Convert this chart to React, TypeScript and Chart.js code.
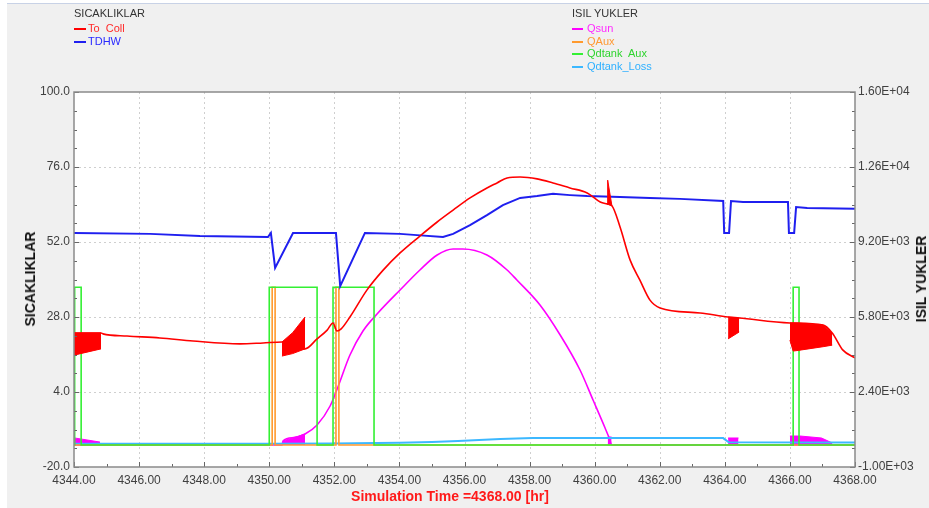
import React, { useEffect, useRef } from "react";
import { Chart, registerables } from "chart.js";

Chart.register(...registerables);

const FONT = '"Liberation Sans", Arial, Helvetica, sans-serif';

// ---- axes ----
const X_MIN = 4344, X_MAX = 4368, X_STEP = 2, X_MINOR = 1;
const T_MIN = -20, T_MAX = 100, T_STEP = 24, T_MINOR = 6;
const Q_MIN = -1000, Q_MAX = 16000, Q_STEP = 3400, Q_MINOR = 850;

type P = [number, number];

// ---- SICAKLIKLAR (deg C) ----
const toColl: P[] = [
  [4344.0, 22.9], [4344.83, 22.9], [4344.89, 22.6], [4345.63, 21.9], [4346.64, 21.3],
  [4347.66, 20.3], [4349.1, 19.4], [4349.81, 19.7], [4350.39, 20.0], [4351.1, 17.8],
  [4351.47, 21.0], [4351.78, 23.8], [4351.96, 26.1], [4352.08, 23.5], [4352.21, 24.2],
  [4352.48, 28.0], [4353.0, 36.6], [4353.5, 43.0], [4354.02, 48.5], [4354.63, 53.9],
  [4355.16, 58.4], [4355.65, 62.2], [4356.17, 66.1], [4356.69, 69.3], [4357.0, 70.9],
  [4357.31, 72.5], [4357.71, 72.8], [4358.23, 72.2], [4358.72, 70.9], [4359.24, 69.3],
  [4359.77, 67.7], [4360.17, 64.8], [4360.38, 64.2], [4360.53, 63.6], [4360.78, 56.8],
  [4361.09, 46.2], [4361.39, 39.8], [4361.7, 33.4], [4362.01, 30.9], [4363.24, 29.3],
  [4364.1, 28.0], [4364.44, 27.7], [4366.0, 26.1], [4367.02, 25.4], [4367.3, 22.9],
  [4367.63, 17.4], [4368.0, 14.9],
];
// rapid oscillation envelopes of To Coll (upper / lower)
const toCollBand1Upper: P[] = [[4344.0, 22.9], [4344.83, 22.9]];
const toCollBand1Lower: P[] = [[4344.0, 15.8], [4344.83, 17.8]];
const toCollBand2Upper: P[] = [[4350.39, 20.0], [4350.72, 23.0], [4351.1, 28.0]];
const toCollBand2Lower: P[] = [[4350.39, 15.5], [4350.72, 16.3], [4351.1, 17.8]];
const toCollBand3Upper: P[] = [[4360.38, 64.2], [4360.4, 71.8], [4360.53, 63.6]];
const toCollBand3Lower: P[] = [[4360.38, 64.2], [4360.4, 64.1], [4360.53, 63.6]];
const toCollBand4Upper: P[] = [[4364.1, 28.0], [4364.44, 27.7]];
const toCollBand4Lower: P[] = [[4364.1, 21.0], [4364.44, 23.2]];
const toCollBand5Upper: P[] = [[4366.0, 26.1], [4366.1, 26.1], [4366.31, 26.0], [4367.02, 25.4], [4367.3, 22.9]];
const toCollBand5Lower: P[] = [[4366.0, 20.6], [4366.1, 17.1], [4366.31, 17.4], [4367.02, 18.5], [4367.3, 19.0]];

const tdhw: P[] = [
  [4344.0, 54.9], [4346.34, 54.6], [4347.87, 53.9], [4349.96, 53.6], [4350.05, 54.9],
  [4350.18, 43.7], [4350.73, 54.9], [4352.05, 54.9], [4352.18, 37.9], [4352.94, 54.9],
  [4354.02, 54.6], [4354.54, 54.2], [4355.34, 53.6], [4355.65, 54.6], [4356.17, 57.4],
  [4356.69, 60.6], [4357.18, 63.8], [4357.71, 66.1], [4358.23, 66.7], [4358.72, 67.4],
  [4359.24, 67.0], [4359.77, 66.7], [4360.78, 66.4], [4361.7, 66.1], [4362.62, 65.8],
  [4363.95, 65.1], [4363.98, 54.9], [4364.13, 54.9], [4364.19, 65.1], [4364.56, 64.8],
  [4365.94, 64.8], [4365.97, 54.9], [4366.13, 54.9], [4366.19, 63.2], [4366.53, 62.9],
  [4368.0, 62.6],
];

// ---- ISIL YUKLER (kJ/h) ----
const qsun: P[] = [
  [4344.0, 0], [4350.4, 0], [4350.42, 180], [4350.75, 330], [4351.1, 496], [4351.47, 904],
  [4351.87, 1765], [4352.11, 2627], [4352.48, 4077], [4352.88, 5165], [4353.34, 5981],
  [4354.02, 7024], [4354.63, 7931], [4355.16, 8611], [4355.65, 8883], [4355.95, 8883],
  [4356.69, 8611], [4357.31, 7931], [4357.61, 7477], [4358.32, 6344], [4358.94, 4984],
  [4359.55, 3397], [4359.95, 2037], [4360.32, 768], [4360.47, 224], [4360.52, 0], [4368.0, 0],
];
const qsunBand1: P[] = [[4344.0, 320], [4344.8, 130]];
const qsunBand2: P[] = [[4350.42, 180], [4350.75, 330], [4351.1, 496]];
const qsunBand3: P[] = [[4360.4, 360], [4360.52, 360]];
const qsunBand4: P[] = [[4364.1, 315], [4364.42, 315]];
const qsunBand5: P[] = [[4366.0, 405], [4366.31, 405], [4366.97, 315], [4367.3, 90]];

const qaux: P[] = [
  [4344.0, 0], [4350.09, 0], [4350.09, 7150], [4350.18, 7150], [4350.18, 0],
  [4352.05, 0], [4352.05, 7150], [4352.14, 7150], [4352.14, 0], [4368.0, 0],
];
const qdtankAux: P[] = [
  [4344.0, 0], [4344.02, 0], [4344.02, 7150], [4344.22, 7150], [4344.22, 0],
  [4350.0, 0], [4350.0, 7150], [4351.47, 7150], [4351.47, 0],
  [4351.96, 0], [4351.96, 7150], [4353.22, 7150], [4353.22, 0],
  [4366.1, 0], [4366.1, 7150], [4366.28, 7150], [4366.28, 0], [4368.0, 0],
];
const qdtankLoss: P[] = [
  [4344.0, 50], [4349.9, 50], [4352.0, 70], [4353.3, 90], [4354.0, 95], [4355.0, 130],
  [4355.8, 180], [4357.1, 270], [4358.1, 310], [4363.95, 310], [4364.12, 120], [4368.0, 110],
];

// ---- colours ----
const RED = "#ff0000";
const BLUE = "#1f1fef";
const MAGENTA = "#ff00ff";
const ORANGE = "#ff9a2e";
const GREEN = "#33f033";
const LIGHTBLUE = "#3cb8ff";

const pts = (a: P[]) => a.map(([x, y]) => ({ x, y }));

const sci = (v: number) => {
  const [m, e] = v.toExponential(2).split("e");
  const n = parseInt(e, 10);
  return `${m.toUpperCase()}E${n < 0 ? "-" : "+"}${String(Math.abs(n)).padStart(2, "0")}`;
};

const framePlugin = {
  id: "framePlugin",
  beforeDraw(chart: any) {
    const { ctx, chartArea: a } = chart;
    ctx.save();
    ctx.fillStyle = "#ffffff";
    ctx.fillRect(a.left, a.top, a.right - a.left, a.bottom - a.top);
    ctx.restore();
  },
  beforeDatasetsDraw(chart: any) {
    const { ctx, chartArea: a, scales } = chart;
    ctx.save();
    ctx.strokeStyle = "#cfcfcf";
    ctx.lineWidth = 1;
    ctx.setLineDash([2, 3]);
    ctx.beginPath();
    for (let v = X_MIN + X_STEP; v < X_MAX - 1e-9; v += X_STEP) {
      const px = Math.round(scales.x.getPixelForValue(v)) + 0.5;
      ctx.moveTo(px, a.top);
      ctx.lineTo(px, a.bottom);
    }
    for (let v = T_MIN + T_STEP; v < T_MAX - 1e-9; v += T_STEP) {
      const py = Math.round(scales.y.getPixelForValue(v)) + 0.5;
      ctx.moveTo(a.left, py);
      ctx.lineTo(a.right, py);
    }
    ctx.stroke();
    ctx.restore();
  },
  afterDatasetsDraw(chart: any) {
    const { ctx, chartArea: a, scales } = chart;
    ctx.save();
    ctx.strokeStyle = "#666";
    ctx.lineWidth = 1;
    ctx.beginPath();
    for (let v = T_MIN; v <= T_MAX + 1e-9; v += T_MINOR) {
      const py = Math.round(scales.y.getPixelForValue(v)) + 0.5;
      const len = Math.abs((v - T_MIN) % T_STEP) < 1e-6 ? 5 : 3;
      ctx.moveTo(a.left, py);
      ctx.lineTo(a.left + len, py);
    }
    for (let v = Q_MIN; v <= Q_MAX + 1e-9; v += Q_MINOR) {
      const py = Math.round(scales.y2.getPixelForValue(v)) + 0.5;
      const len = Math.abs((v - Q_MIN) % Q_STEP) < 1e-6 ? 5 : 3;
      ctx.moveTo(a.right, py);
      ctx.lineTo(a.right - len, py);
    }
    for (let v = X_MIN; v <= X_MAX + 1e-9; v += X_MINOR) {
      const px = Math.round(scales.x.getPixelForValue(v)) + 0.5;
      const len = Math.abs((v - X_MIN) % X_STEP) < 1e-6 ? 5 : 3;
      ctx.moveTo(px, a.bottom);
      ctx.lineTo(px, a.bottom - len);
    }
    ctx.stroke();
    ctx.strokeStyle = "#8a8a8a";
    ctx.lineWidth = 1.5;
    ctx.strokeRect(a.left, a.top, a.right - a.left, a.bottom - a.top);
    ctx.restore();
  },
};

function line(data: P[], color: string, width: number, axis: string, extra: any = {}) {
  return {
    data: pts(data),
    borderColor: color,
    backgroundColor: color,
    borderWidth: width,
    pointRadius: 0,
    yAxisID: axis,
    fill: false,
    tension: 0,
    ...extra,
  };
}

const tickFont = { family: FONT, size: 12 };

export default function App() {
  const ref = useRef<HTMLCanvasElement | null>(null);

  useEffect(() => {
    if (!ref.current) return;
    const redBands: any[] = [];
    const bandPairs: [P[], P[]][] = [
      [toCollBand1Upper, toCollBand1Lower],
      [toCollBand2Upper, toCollBand2Lower],
      [toCollBand3Upper, toCollBand3Lower],
      [toCollBand4Upper, toCollBand4Lower],
      [toCollBand5Upper, toCollBand5Lower],
    ];
    bandPairs.forEach(([u, l]) => {
      redBands.push(line(u, RED, 1, "y", { fill: "+1", backgroundColor: RED }));
      redBands.push(line(l, RED, 1, "y"));
    });
    const sunBands = [qsunBand1, qsunBand2, qsunBand3, qsunBand4, qsunBand5].map((b) =>
      line(b, MAGENTA, 1, "y2", { fill: "origin", backgroundColor: MAGENTA })
    );

    const chart = new Chart(ref.current, {
      type: "line",
      data: {
        datasets: [
          line(toColl, RED, 1.6, "y", { cubicInterpolationMode: "monotone" }),
          ...redBands,
          line(tdhw, BLUE, 2, "y"),
          line(qdtankAux, GREEN, 1.6, "y2"),
          line(qaux, ORANGE, 1.6, "y2"),
          line(qdtankLoss, LIGHTBLUE, 2, "y2"),
          line(qsun, MAGENTA, 1.6, "y2", { cubicInterpolationMode: "monotone" }),
          ...sunBands,
        ] as any,
      },
      options: {
        responsive: false,
        maintainAspectRatio: false,
        animation: false,
        events: [],
        layout: { padding: { top: 92, left: 0, right: 0, bottom: 0 } },
        plugins: { legend: { display: false }, tooltip: { enabled: false } },
        scales: {
          x: {
            type: "linear",
            min: X_MIN,
            max: X_MAX,
            grid: { display: false, drawTicks: false },
            border: { display: false },
            ticks: {
              stepSize: X_STEP,
              autoSkip: false,
              maxRotation: 0,
              padding: 6,
              color: "#404040",
              font: tickFont,
              callback: (v: any) => Number(v).toFixed(2),
            },
            afterFit: (s: any) => {
              s.height = 41;
            },
          },
          y: {
            type: "linear",
            position: "left",
            min: T_MIN,
            max: T_MAX,
            grid: { display: false, drawTicks: false },
            border: { display: false },
            ticks: {
              stepSize: T_STEP,
              autoSkip: false,
              padding: 4,
              color: "#404040",
              font: tickFont,
              callback: (v: any) => Number(v).toFixed(1),
            },
            afterFit: (s: any) => {
              s.width = 74;
            },
          },
          y2: {
            type: "linear",
            position: "right",
            min: Q_MIN,
            max: Q_MAX,
            grid: { display: false, drawTicks: false },
            border: { display: false },
            ticks: {
              stepSize: Q_STEP,
              autoSkip: false,
              padding: 3,
              color: "#404040",
              font: tickFont,
              callback: (v: any) => sci(Number(v)),
            },
            afterFit: (s: any) => {
              s.width = 74;
            },
          },
        },
      } as any,
      plugins: [framePlugin],
    });
    return () => chart.destroy();
  }, []);

  const legendText = (top: number, left: number, text: string, color: string, marker?: string, mw = 12, gap = 2) => (
    <div
      style={{
        position: "absolute",
        top,
        left,
        height: 13,
        lineHeight: "13px",
        fontFamily: FONT,
        fontSize: 11,
        color,
        whiteSpace: "pre",
        display: "flex",
        alignItems: "center",
      }}
    >
      {marker && (
        <span style={{ display: "inline-block", width: mw, height: 2, background: marker, marginRight: gap }} />
      )}
      {text}
    </div>
  );

  const rotated = (cx: number, cy: number, text: string) => (
    <div
      style={{
        position: "absolute",
        left: cx,
        top: cy,
        transform: "translate(-50%, -50%) rotate(-90deg)",
        fontFamily: FONT,
        fontSize: 14,
        fontWeight: "bold",
        color: "#111",
        whiteSpace: "nowrap",
      }}
    >
      {text}
    </div>
  );

  return (
    <div
      style={{
        position: "fixed",
        left: 0,
        top: 0,
        width: 929,
        height: 508,
        background: "#ffffff",
        overflow: "hidden",
      }}
    >
      <div
        style={{
          position: "absolute",
          left: 7,
          top: 3,
          right: 0,
          bottom: 0,
          background: "#f0f0f0",
          borderTop: "1px solid #c8d2e6",
        }}
      />
      <canvas ref={ref} width={929} height={508} style={{ position: "absolute", left: 0, top: 0 }} />
      {legendText(7, 74, "SICAKLIKLAR", "#333")}
      {legendText(22, 74, "To  Coll", "#ff2a2a", RED)}
      {legendText(35, 74, "TDHW", "#2a2aff", BLUE)}
      {legendText(7, 572, "ISIL YUKLER", "#333")}
      {legendText(22, 572, "Qsun", "#ff2aff", MAGENTA, 11, 4)}
      {legendText(35, 572, "QAux", "#ff9933", ORANGE, 11, 4)}
      {legendText(47, 572, "Qdtank  Aux", "#2fd42f", GREEN, 11, 4)}
      {legendText(60, 572, "Qdtank_Loss", "#2fb0ff", LIGHTBLUE, 11, 4)}
      {rotated(30, 279, "SICAKLIKLAR")}
      {rotated(921, 279, "ISIL YUKLER")}
      <div
        style={{
          position: "absolute",
          left: 450,
          top: 496,
          transform: "translate(-50%, -50%)",
          fontFamily: FONT,
          fontSize: 14,
          fontWeight: "bold",
          color: "#ff1a1a",
          whiteSpace: "nowrap",
        }}
      >
        Simulation Time =4368.00 [hr]
      </div>
    </div>
  );
}
